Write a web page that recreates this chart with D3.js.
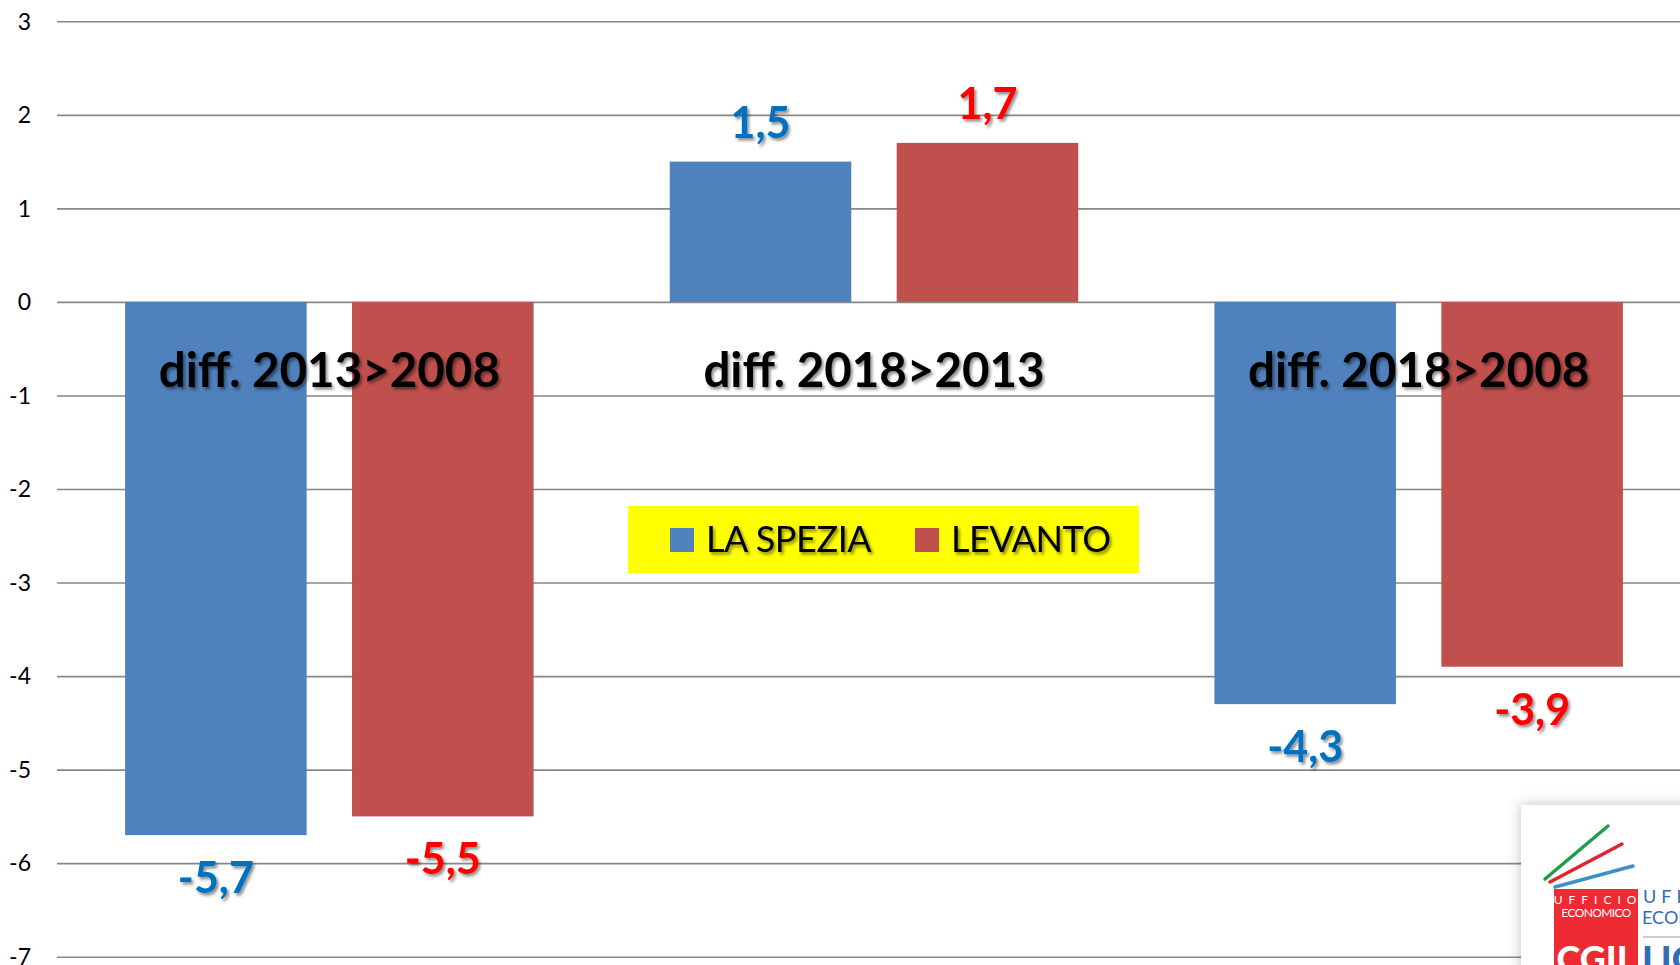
<!DOCTYPE html>
<html>
<head>
<meta charset="utf-8">
<script src="https://cdn.jsdelivr.net/npm/d3@7"></script>
<style>
  body { margin: 0; background: #fff; }
  svg { display: block; font-family: Lato, "Open Sans", sans-serif; }
</style>
</head>
<body>
<div id="chart"></div>
<script>
// chart data
const categories = ["diff. 2013>2008", "diff. 2018>2013", "diff. 2018>2008"];
const seriesNames = ["LA SPEZIA", "LEVANTO"];
const laSpezia = [-5.7, 1.5, -4.3];
const levanto = [-5.5, 1.7, -3.9];
const yTicks = [3, 2, 1, 0, -1, -2, -3, -4, -5, -6, -7];

const barColors = ["#4F81BD", "#C0504D"];
const labelColors = ["#0070C0", "#FF0000"];

const width = 1680;
const height = 965;

const svg = d3.select("#chart")
    .append("svg")
    .attr("width", width)
    .attr("height", height);

const defs = svg.append("defs");

// soft text shadow like the office chart
defs.append("filter")
    .attr("id", "txtShadow")
    .attr("x", "-10%").attr("y", "-20%")
    .attr("width", "130%").attr("height", "150%")
    .append("feDropShadow")
    .attr("dx", 2).attr("dy", 2.5)
    .attr("stdDeviation", 1.4)
    .attr("flood-color", "#000")
    .attr("flood-opacity", 0.45);

defs.append("filter")
    .attr("id", "boxShadow")
    .attr("x", "-20%").attr("y", "-20%")
    .attr("width", "140%").attr("height", "140%")
    .append("feDropShadow")
    .attr("dx", 0).attr("dy", 0)
    .attr("stdDeviation", 7)
    .attr("flood-color", "#000")
    .attr("flood-opacity", 0.25);

// scales
const y = d3.scaleLinear()
    .domain([-7, 3])
    .range([956.7, 21.3]);

const x0 = d3.scaleBand()
    .domain(categories)
    .range([57, 1691])
    .paddingInner(0.25)
    .paddingOuter(0.125);

const x1 = d3.scaleBand()
    .domain(seriesNames)
    .range([0, x0.bandwidth()])
    .paddingInner(0.2);

// gridlines
const gridAxis = d3.axisLeft(y)
    .tickValues(yTicks)
    .tickSize(-(width - 57))
    .tickFormat("");

svg.append("g")
    .attr("transform", "translate(57,0)")
    .call(gridAxis)
    .call(g => g.select(".domain").remove())
    .call(g => g.selectAll("line")
        .attr("stroke", "#878787")
        .attr("stroke-width", 1.6));

// tick labels
svg.append("g")
    .selectAll("text")
    .data(yTicks)
    .join("text")
    .attr("x", 31)
    .attr("y", d => y(d))
    .attr("dy", "0.36em")
    .attr("text-anchor", "end")
    .style("font-size", "23px")
    .style("fill", "#000")
    .text(d => d);

// bars
const rows = categories.map((c, i) => ({
    category: c,
    values: [
        { series: seriesNames[0], idx: 0, value: laSpezia[i] },
        { series: seriesNames[1], idx: 1, value: levanto[i] }
    ]
}));

const groups = svg.append("g")
    .selectAll("g")
    .data(rows)
    .join("g")
    .attr("transform", d => `translate(${x0(d.category)},0)`);

groups.selectAll("rect")
    .data(d => d.values)
    .join("rect")
    .attr("x", d => x1(d.series))
    .attr("width", x1.bandwidth())
    .attr("y", d => y(Math.max(0, d.value)))
    .attr("height", d => Math.abs(y(d.value) - y(0)))
    .attr("fill", d => barColors[d.idx]);

// value labels
const fmt = v => String(v).replace(".", ",");

groups.selectAll("text.val")
    .data(d => d.values)
    .join("text")
    .attr("class", "val")
    .attr("x", d => x1(d.series) + x1.bandwidth() / 2)
    .attr("y", d => d.value >= 0 ? y(d.value) - 24 : y(d.value) + 58)
    .attr("text-anchor", "middle")
    .attr("filter", "url(#txtShadow)")
    .style("font-size", "43px")
    .style("font-weight", "bold")
    .style("fill", d => labelColors[d.idx])
    .text(d => fmt(d.value));

// category labels
svg.append("g")
    .selectAll("text")
    .data(categories)
    .join("text")
    .attr("x", d => x0(d) + x0.bandwidth() / 2)
    .attr("y", 387)
    .attr("text-anchor", "middle")
    .attr("filter", "url(#txtShadow)")
    .style("font-size", "47.5px")
    .style("font-weight", "bold")
    .style("fill", "#000")
    .text(d => d);

// legend
const legend = svg.append("g").attr("transform", "translate(628,506)");
legend.append("rect")
    .attr("width", 511)
    .attr("height", 67)
    .attr("fill", "#FFFF00");

const legendX = [42, 287];
const item = legend.selectAll("g.item")
    .data(seriesNames)
    .join("g")
    .attr("class", "item")
    .attr("transform", (d, i) => `translate(${legendX[i]},0)`);

item.append("rect")
    .attr("y", 22)
    .attr("width", 24)
    .attr("height", 24)
    .attr("fill", (d, i) => barColors[i]);

item.append("text")
    .attr("x", 36)
    .attr("y", 46)
    .attr("filter", "url(#txtShadow)")
    .style("font-size", "36px")
    .style("letter-spacing", "-0.4px")
    .style("fill", "#000")
    .text(d => d);

// logo in the corner (cropped by the frame)
const logo = svg.append("g");
logo.append("rect")
    .attr("x", 1521).attr("y", 805)
    .attr("width", 200).attr("height", 200)
    .attr("fill", "#fff")
    .attr("filter", "url(#boxShadow)");

const strokes = [
    { x1: 1545, y1: 879, x2: 1608, y2: 826, c: "#1E9E4A" },
    { x1: 1550, y1: 882, x2: 1622, y2: 844, c: "#E3232C" },
    { x1: 1555, y1: 887, x2: 1633, y2: 866, c: "#3E8FCB" }
];
logo.selectAll("line")
    .data(strokes)
    .join("line")
    .attr("x1", d => d.x1).attr("y1", d => d.y1)
    .attr("x2", d => d.x2).attr("y2", d => d.y2)
    .attr("stroke", d => d.c)
    .attr("stroke-width", 3.5)
    .attr("stroke-linecap", "round");

logo.append("rect")
    .attr("x", 1554).attr("y", 889)
    .attr("width", 84).attr("height", 80)
    .attr("fill", "#EE2A33");

logo.append("text")
    .attr("x", 1598).attr("y", 904)
    .attr("text-anchor", "middle")
    .style("font-size", "12px")
    .style("letter-spacing", "6px")
    .style("fill", "#fff")
    .text("UFFICIO");
logo.append("text")
    .attr("x", 1596).attr("y", 917)
    .attr("text-anchor", "middle")
    .style("font-size", "12px")
    .style("letter-spacing", "-0.6px")
    .style("fill", "#fff")
    .text("ECONOMICO");
logo.append("text")
    .attr("x", 1596).attr("y", 972)
    .attr("text-anchor", "middle")
    .style("font-size", "36px")
    .style("font-weight", "900")
    .style("fill", "#fff")
    .text("CGIL");

logo.append("text")
    .attr("x", 1643).attr("y", 903)
    .style("font-size", "18px")
    .style("letter-spacing", "5px")
    .style("fill", "#2F6DB5")
    .text("UFFICIO");
logo.append("text")
    .attr("x", 1642).attr("y", 924)
    .style("font-size", "18px")
    .style("fill", "#2F6DB5")
    .text("ECONOMICO");
logo.append("line")
    .attr("x1", 1643).attr("x2", 1700)
    .attr("y1", 937).attr("y2", 937)
    .attr("stroke", "#bbb").attr("stroke-width", 1.5);
logo.append("text")
    .attr("x", 1642).attr("y", 972)
    .style("font-size", "36px")
    .style("font-weight", "900")
    .style("fill", "#2F6DB5")
    .text("LIGURIA");
</script>
</body>
</html>
